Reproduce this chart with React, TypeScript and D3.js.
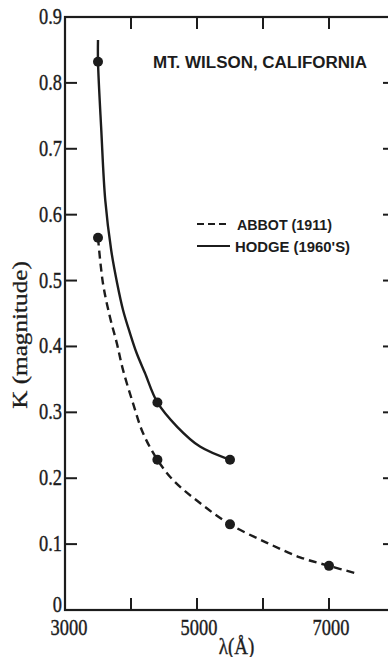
import React, { useEffect, useRef } from 'react';
import * as d3 from 'd3';

const abbotLambda = [3500, 4400, 5500, 7000];
const abbotK = [0.565, 0.228, 0.13, 0.067];
const abbotCurveLambda = [3500, 3575, 3680, 3785, 3880, 4030, 4180, 4400, 4640, 5050, 5500, 6060, 6560, 7000, 7400];
const abbotCurveK = [0.565, 0.496, 0.445, 0.405, 0.364, 0.314, 0.269, 0.228, 0.197, 0.162, 0.13, 0.102, 0.08, 0.067, 0.056];

const hodgeLambda = [3500, 4400, 5500];
const hodgeK = [0.832, 0.315, 0.228];
const hodgeCurveLambda = [3500, 3500, 3550, 3610, 3700, 3790, 3880, 3985, 4085, 4210, 4400, 4700, 5045, 5500];
const hodgeCurveK = [0.865, 0.832, 0.728, 0.622, 0.546, 0.496, 0.455, 0.42, 0.39, 0.36, 0.315, 0.278, 0.248, 0.228];

const kTicks = [0, 0.1, 0.2, 0.3, 0.4, 0.5, 0.6, 0.7, 0.8, 0.9];
const kTickLabels = ['0', '0.1', '0.2', '0.3', '0.4', '0.5', '0.6', '0.7', '0.8', '0.9'];
const lambdaTicks = [4000, 5000, 6000, 7000];
const lambdaLabelTicks = [3000, 5000, 7000];

const legendLabels = ['ABBOT (1911)', "HODGE (1960'S)"];

const W = 388;
const H = 657;

const App = () => {
  const svgRef = useRef<SVGSVGElement | null>(null);

  useEffect(() => {
    if (!svgRef.current) return;
    const svg = d3.select(svgRef.current);
    svg.selectAll('*').remove();

    const ink = '#1c1c1c';
    const x = d3.scaleLinear().domain([3000, 8000]).range([65, 395]);
    const y = d3.scaleLinear().domain([0, 0.9]).range([610, 17]);
    const [x0, x1] = x.range();
    const [y0, y1] = y.range();
    const tickLen = 12;

    svg.append('rect').attr('width', W).attr('height', H).attr('fill', '#fff');

    // frame
    svg.append('rect')
      .attr('x', x0).attr('y', y1)
      .attr('width', x1 - x0).attr('height', y0 - y1)
      .attr('fill', 'none').attr('stroke', ink).attr('stroke-width', 2.2);

    // inward ticks on all four sides
    const inner = kTicks.filter(d => d > 0 && d < 0.9);
    inner.forEach(k => {
      svg.append('line').attr('x1', x0).attr('x2', x0 + tickLen)
        .attr('y1', y(k)).attr('y2', y(k)).attr('stroke', ink).attr('stroke-width', 2);
      svg.append('line').attr('x1', x1).attr('x2', x1 - tickLen)
        .attr('y1', y(k)).attr('y2', y(k)).attr('stroke', ink).attr('stroke-width', 2);
    });
    lambdaTicks.forEach(l => {
      svg.append('line').attr('x1', x(l)).attr('x2', x(l))
        .attr('y1', y0).attr('y2', y0 - tickLen).attr('stroke', ink).attr('stroke-width', 2);
      svg.append('line').attr('x1', x(l)).attr('x2', x(l))
        .attr('y1', y1).attr('y2', y1 + tickLen).attr('stroke', ink).attr('stroke-width', 2);
    });

    const serif = '"Liberation Serif", "DejaVu Serif", serif';
    const sans = '"Liberation Sans", Arial, sans-serif';

    // y tick labels (the "0" sits a little higher, clear of the 3000)
    kTicks.forEach((k, i) => {
      const dy = k === 0 ? 2 : 7;
      svg.append('text')
        .attr('transform', `translate(${x0 - 3},${y(k) + dy}) scale(0.92,1.2)`)
        .attr('text-anchor', 'end')
        .style('font-family', serif).style('font-size', '20px')
        .attr('fill', ink).attr('stroke', ink).attr('stroke-width', 0.35)
        .text(kTickLabels[i]);
    });

    // x tick labels
    lambdaLabelTicks.forEach(l => {
      svg.append('text')
        .attr('transform', `translate(${x(l) + (l === 3000 ? 4 : 2)},${y0 + 25}) scale(0.92,1.2)`)
        .attr('text-anchor', 'middle')
        .style('font-family', serif).style('font-size', '20px')
        .attr('fill', ink).attr('stroke', ink).attr('stroke-width', 0.35)
        .text(String(l));
    });

    // axis titles
    svg.append('text')
      .attr('transform', `translate(${x(5600)},${y0 + 44}) scale(0.95,1.2)`)
      .attr('text-anchor', 'middle')
      .style('font-family', serif).style('font-size', '20px')
      .attr('fill', ink).attr('stroke', ink).attr('stroke-width', 0.35)
      .text('λ(Å)');

    svg.append('text')
      .attr('transform', `translate(27,335) rotate(-90) scale(1.2,1)`)
      .attr('text-anchor', 'middle')
      .style('font-family', serif).style('font-size', '21px')
      .attr('fill', ink).attr('stroke', ink).attr('stroke-width', 0.3)
      .text('K (magnitude)');

    // title
    svg.append('text')
      .attr('x', 153).attr('y', 68)
      .attr('textLength', 214).attr('lengthAdjust', 'spacingAndGlyphs')
      .style('font-family', sans).style('font-size', '16px').style('font-weight', 'bold')
      .attr('fill', ink)
      .text('MT. WILSON, CALIFORNIA');

    // curves
    const line = d3.line<[number, number]>()
      .x(d => x(d[0]))
      .y(d => y(d[1]))
      .curve(d3.curveCatmullRom.alpha(0.5));

    const abbotCurve: [number, number][] = abbotCurveLambda.map((l, i) => [l, abbotCurveK[i]]);
    const hodgeCurve: [number, number][] = hodgeCurveLambda.map((l, i) => [l, hodgeCurveK[i]]);

    svg.append('path')
      .datum(abbotCurve)
      .attr('d', line)
      .attr('fill', 'none').attr('stroke', ink).attr('stroke-width', 2.4)
      .attr('stroke-dasharray', '8,5');

    svg.append('path')
      .datum(hodgeCurve)
      .attr('d', line)
      .attr('fill', 'none').attr('stroke', ink).attr('stroke-width', 2.4);

    // measured dots
    abbotLambda.forEach((l, i) => {
      svg.append('circle').attr('cx', x(l)).attr('cy', y(abbotK[i])).attr('r', 5).attr('fill', ink);
    });
    hodgeLambda.forEach((l, i) => {
      svg.append('circle').attr('cx', x(l)).attr('cy', y(hodgeK[i])).attr('r', 5).attr('fill', ink);
    });

    // legend
    const legend = svg.append('g').attr('transform', 'translate(197,224)');
    legend.append('line').attr('x1', 0).attr('x2', 33).attr('y1', 0).attr('y2', 0)
      .attr('stroke', ink).attr('stroke-width', 2.2).attr('stroke-dasharray', '7,4');
    legend.append('line').attr('x1', 0).attr('x2', 33).attr('y1', 22).attr('y2', 22)
      .attr('stroke', ink).attr('stroke-width', 2.2);
    legend.append('text')
      .attr('x', 40).attr('y', 6)
      .attr('textLength', 95).attr('lengthAdjust', 'spacingAndGlyphs')
      .style('font-family', sans).style('font-size', '15px').style('font-weight', 'bold')
      .attr('fill', ink).text(legendLabels[0]);
    legend.append('text')
      .attr('x', 38).attr('y', 28)
      .attr('textLength', 115).attr('lengthAdjust', 'spacingAndGlyphs')
      .style('font-family', sans).style('font-size', '15px').style('font-weight', 'bold')
      .attr('fill', ink).text(legendLabels[1]);
  }, []);

  return (
    <svg
      ref={svgRef}
      width={W}
      height={H}
      style={{ position: 'absolute', left: 0, top: 0, display: 'block' }}
    />
  );
};

export default App;
